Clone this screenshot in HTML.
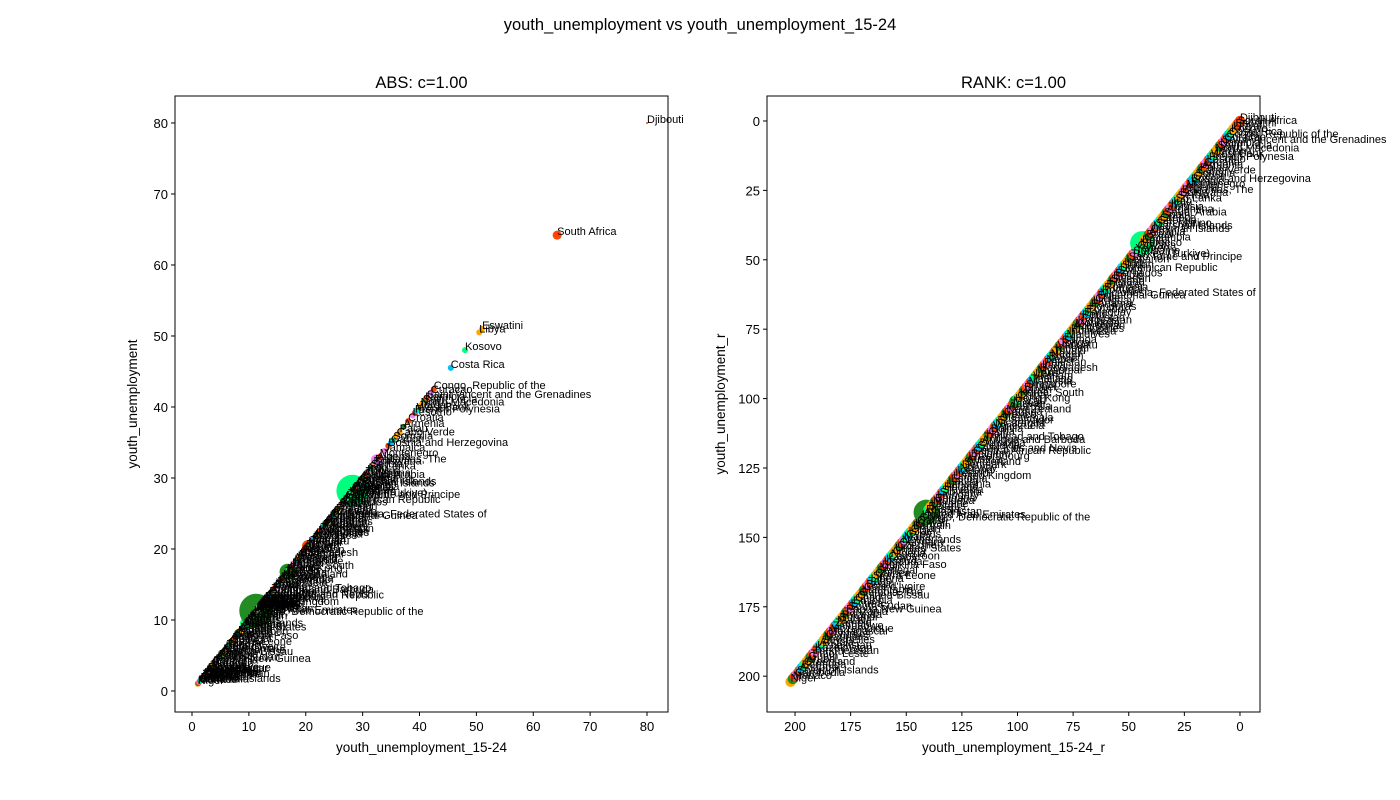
<!DOCTYPE html>
<html><head><meta charset="utf-8"><style>
body{margin:0;background:#fff}
svg{display:block;font-family:"Liberation Sans","DejaVu Sans",sans-serif}
</style></head><body>
<svg id="fig" width="1400" height="800">
<rect width="1400" height="800" fill="#fff"/>
<text x="700" y="30" font-size="16.5" text-anchor="middle">youth_unemployment vs youth_unemployment_15-24</text>
<g id="left"></g>
<g id="right"></g>
</svg>
<script>
const names = ["Djibouti","South Africa","Eswatini","Libya","Kosovo","Costa Rica","Congo, Republic of the","Curacao","Saint Vincent and the Grenadines","Namibia",
"Saint Lucia","North Macedonia","Jordan","West Bank","French Polynesia","Lesotho","Croatia","Armenia","Palau","Cabo Verde",
"Somalia","Gabon","Bosnia and Herzegovina","Jamaica","Montenegro","Algeria","Bahamas, The","Botswana","Serbia","Sri Lanka",
"Iran","Italy","Tunisia","Argentina","Saudi Arabia","Spain","Greece","Georgia","San Marino","Marshall Islands",
"Cayman Islands","Albania","Brazil","Colombia","Egypt",
"Morocco","Guyana","Yemen","Suriname","Turkey (Turkiye)","Sao Tome and Principe","Lebanon","Iraq","Sudan","Dominican Republic",
"Syria","Barbados","Belize","Sweden","Finland","France","Romania","Portugal","Micronesia, Federated States of","Equatorial Guinea",
"Chile","Uruguay","Panama","Honduras","Ecuador","Paraguay","Peru","Tajikistan","Kyrgyzstan","Mongolia",
"Azerbaijan","Philippines","Indonesia","Maldives","Fiji","Samoa","Tonga","Vanuatu","Kiribati","Tuvalu",
"Nauru","Bhutan","Nepal","Pakistan","India","Bangladesh","Myanmar","Laos","Vietnam","Thailand",
"Malaysia","Singapore","Brunei","Japan","Korea, South","China","Hong Kong","Macau","Taiwan","Australia",
"New Zealand","Canada","Mexico","Guatemala","El Salvador","Nicaragua","Venezuela","Bolivia","Cuba","Haiti",
"Trinidad and Tobago","Antigua and Barbuda","Dominica","Grenada","Saint Kitts and Nevis","Central African Republic","Belgium","Luxembourg","Austria","Switzerland",
"Denmark","Norway","Iceland","Ireland","United Kingdom","Estonia","Latvia","Lithuania","Poland","Slovakia",
"Slovenia","Hungary","Bulgaria","Moldova","Ukraine","Belarus",
"Russia",
"Afghanistan","United Arab Emirates","Congo, Democratic Republic of the","Qatar","Kuwait","Bahrain","Oman","Israel","Cyprus","Malta",
"Netherlands","Germany","Czechia","United States","Ghana","Nigeria","Cameroon","Kenya","Uganda","Burkina Faso",
"Mali","Senegal","Guinea","Sierra Leone","Liberia","Togo","Benin","Cote d'Ivoire","Mauritania","Gambia, The",
"Guinea-Bissau","Chad","Ethiopia","Eritrea","South Sudan","Papua New Guinea","Tanzania","Rwanda","Burundi","Malawi",
"Zambia","Zimbabwe","Mozambique","Madagascar","Comoros","Mauritius","Seychelles","Angola","Uzbekistan","Kazakhstan",
"Turkmenistan","Timor-Leste","Guam","Aruba","Greenland","Bermuda","Andorra","Solomon Islands","Cambodia","Monaco",
"Niger"];
const youthUnemployment = [80,64.2,51,50.5,48,45.5,42.5,42,41.3,41,
40.6,40.2,39.8,39.5,39.2,38.8,38,37.2,36.5,36,
35.4,35,34.5,33.8,33,32.5,32.2,31.9,31.5,31.2,
31,30.8,30.5,30.2,30,29.8,29.6,29.4,29.2,29,
28.8,28.6,28.4,28.3,28.2,
28.1,27.9,27.7,27.6,27.4,27.2,27.1,26.9,26.7,26.5,
26.3,26.1,25.9,25.6,25.3,25.0,24.8,24.6,24.4,24.2,
24.0,23.8,23.6,23.4,23.2,23.0,22.8,22.6,22.4,22.2,
22.0,21.8,21.6,21.4,21.2,21.0,20.8,20.6,20.4,20.2,
20.0,19.8,19.6,19.4,19.2,19.0,18.8,18.6,18.4,18.2,
18.0,17.8,17.6,17.4,17.2,17.0,16.8,16.6,16.4,16.2,
16.0,15.8,15.6,15.4,15.2,15.0,14.8,14.6,14.4,14.2,
14.0,13.8,13.6,13.4,13.2,13.0,12.9,12.8,12.7,12.6,
12.5,12.4,12.3,12.2,12.1,12.0,11.95,11.9,11.85,11.8,
11.75,11.7,11.6,11.55,11.5,11.4,
11.3,
11.1,10.9,10.7,10.5,10.3,10.1,9.9,9.7,9.5,9.3,
9.1,8.9,8.7,8.5,8.3,8.1,7.9,7.7,7.5,7.3,
7.1,6.9,6.7,6.5,6.3,6.1,5.9,5.7,5.5,5.3,
5.1,4.9,4.7,4.5,4.3,4.1,3.9,3.7,3.5,3.3,
3.1,2.9,2.8,2.7,2.6,2.5,2.4,2.3,2.2,2.1,
2.0,1.9,1.8,1.7,1.6,1.5,1.4,1.3,1.2,1.1,
1.0];
const youthUnemployment1524 = youthUnemployment.slice();
const absTicks = [0,10,20,30,40,50,60,70,80];
const rankTicks = [0,25,50,75,100,125,150,175,200];
const bigPoints = {"Egypt":16,"Russia":17,"Algeria":6,"Kiribati":6,"Hong Kong":8,"Cyprus":6,"South Africa":4.5,"Djibouti":1};
const bigColors = {"Egypt":"springgreen","Russia":"forestgreen","Algeria":"violet","Kiribati":"orangered","Hong Kong":"forestgreen","Cyprus":"springgreen","South Africa":"orangered","Djibouti":"orangered"};
const palette = ["orangered","deepskyblue","orange","violet","springgreen","forestgreen","orangered","orange"];
const NS="http://www.w3.org/2000/svg";
function mk(tag,attrs,parent){const e=document.createElementNS(NS,tag);for(const k in attrs)e.setAttribute(k,attrs[k]);parent.appendChild(e);return e;}
const n=Math.min(names.length,youthUnemployment.length);
const rankX=new Array(n), rankY=new Array(n);
[...Array(n).keys()].sort((a,b)=>youthUnemployment[b]-youthUnemployment[a]).forEach((idx,r)=>{rankY[idx]=r;});
[...Array(n).keys()].sort((a,b)=>youthUnemployment1524[b]-youthUnemployment1524[a]).forEach((idx,r)=>{rankX[idx]=r;});

function panel(g,box,xd,yd,ticks,xs,ys,title,xl,yl,rev,isRank){
  const X=v=>box.x0+(v-xd[0])/(xd[1]-xd[0])*(box.x1-box.x0);
  const Y=v=>box.y1-(v-yd[0])/(yd[1]-yd[0])*(box.y1-box.y0);
  const t=mk('text',{x:(box.x0+box.x1)/2,y:box.y0-8,'font-size':16.5,'text-anchor':'middle'},g);t.textContent=title;
  
  
  const pts=mk('g',{},g);
  
  
  for(let i=n-1;i>=0;i--){
    const base=bigPoints[names[i]]||3;
    const r=isRank?Math.max(5.2,base*0.75):base;
    const col=bigColors[names[i]]||palette[(i*5)%palette.length];
    const c=mk('circle',{cx:X(xs[i]),cy:Y(ys[i]),r:r,fill:col},pts);
    
    
  }
  for(let i=0;i<n;i++){
    const tx=mk('text',{x:X(xs[i]),y:Y(ys[i]),'font-size':11},pts);tx.textContent=names[i];
    
    
  }
  const fr=mk('rect',{x:box.x0,y:box.y0,width:box.x1-box.x0,height:box.y1-box.y0,fill:'none',stroke:'#000','stroke-width':1},g);
  
  
  ticks.forEach(v=>{
    mk('line',{x1:X(v),x2:X(v),y1:box.y1,y2:box.y1+4,stroke:'#000'},g);
    const a=mk('text',{x:X(v),y:box.y1+19,'font-size':13,'text-anchor':'middle'},g);a.textContent=v;
    
    
    mk('line',{x1:box.x0-4,x2:box.x0,y1:Y(v),y2:Y(v),stroke:'#000'},g);
    const b=mk('text',{x:box.x0-7,y:Y(v)+5,'font-size':13,'text-anchor':'end'},g);b.textContent=v;
    
    
  });
  const xa=mk('text',{x:(box.x0+box.x1)/2,y:box.y1+40,'font-size':13.5,'text-anchor':'middle'},g);xa.textContent=xl;
  
  
  const cy=(box.y0+box.y1)/2, cx=box.x0-(rev?42:38);
  const ya=mk('text',{x:cx,y:cy,'font-size':13.5,'text-anchor':'middle',transform:`rotate(-90 ${cx} ${cy})`},g);ya.textContent=yl;
  
  
}
panel(document.getElementById('left'),{x0:175,x1:668,y0:96,y1:712},[-2.99,83.69],[-2.96,83.8],absTicks,youthUnemployment1524,youthUnemployment,"ABS: c=1.00","youth_unemployment_15-24","youth_unemployment",false,false);
panel(document.getElementById('right'),{x0:767,x1:1260,y0:96,y1:712},[212.6,-9],[212.9,-9],rankTicks,rankX,rankY,"RANK: c=1.00","youth_unemployment_15-24_r","youth_unemployment_r",true,true);
</script>
</body></html>
